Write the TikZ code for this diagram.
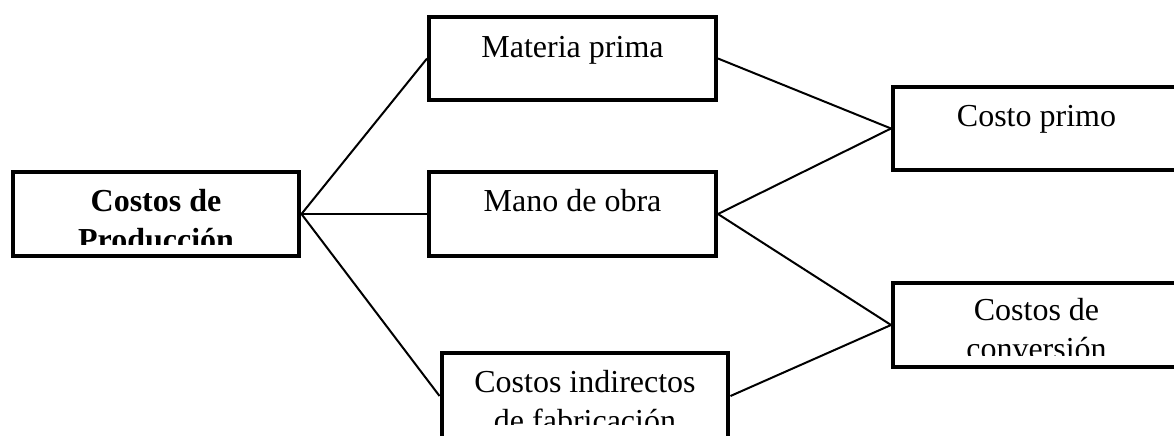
\documentclass[tikz,border=0pt]{standalone}
\usepackage{fontspec}
\setmainfont{Liberation Serif}
\usepackage{tikz}
\usetikzlibrary{positioning, calc}

\tikzset{
  caja/.style={draw, line width=1.5pt, inner sep=0pt, minimum width=107.6pt, minimum height=31.2pt},
  texto/.style={inner sep=0pt, align=center, font=\fontsize{12}{14.6}\selectfont},
  linea/.style={line width=0.75pt}
}

\begin{document}
\begin{tikzpicture}[x=0.375pt, y=-0.375pt]
				\useasboundingbox (0,0) rectangle (1174,436);
				\clip (0,0) rectangle (1174,436);
				% cajas
				\node[caja] (prod) at (156,214) {};
				\node[caja] (mat) at (572.5,58.5) {};
				\node[caja] (mano) at (572.5,214) {};
				\node[caja, minimum height=32.25pt] (ind) at (585,396) {};
				\node[caja] (primo) at (1036.5,128.5) {};
				\node[caja] (conv) at (1036.5,325) {};
				% textos (recortados abajo)
				\begin{scope}
					\clip (prod.north west) rectangle ($(prod.north east)+(0,74)$);
					\node[texto, anchor=base, font=\fontsize{12}{14.6}\selectfont\bfseries] (tprod) at ($(prod.north)+(0,80)$) {Costos de\\Producción};
				\end{scope}
				\begin{scope}
					\clip (mat.north west) rectangle ($(mat.north east)+(0,74)$);
					\node[texto, anchor=base] (tmat) at ($(mat.north)+(0,43)$) {Materia prima};
				\end{scope}
				\begin{scope}
					\clip (mano.north west) rectangle ($(mano.north east)+(0,74)$);
					\node[texto, anchor=base] (tmano) at ($(mano.north)+(0,41)$) {Mano de obra};
				\end{scope}
				\begin{scope}
					\clip (ind.north west) rectangle ($(ind.north east)+(0,73)$);
					\node[texto, anchor=base] (tind) at ($(ind.north)+(0,80)$) {Costos indirectos\\de fabricación};
				\end{scope}
				\begin{scope}
					\clip (primo.north west) rectangle ($(primo.north east)+(0,74)$);
					\node[texto, anchor=base] (tprimo) at ($(primo.north)+(0,42)$) {Costo primo};
				\end{scope}
				\begin{scope}
					\clip (conv.north west) rectangle ($(conv.north east)+(0,74)$);
					\node[texto, anchor=base] (tconv) at ($(conv.north)+(0,78)$) {Costos de\\conversión};
				\end{scope}
				% conexiones
				\draw[linea] (prod.east) -- (mat.west);
				\draw[linea] (prod.east) -- (mano.west);
				\draw[linea] (prod.east) -- (ind.west);
				\draw[linea] (mat.east) -- (primo.west);
				\draw[linea] (mano.east) -- (primo.west);
				\draw[linea] (mano.east) -- (conv.west);
				\draw[linea] (ind.east) -- (conv.west);
			\end{tikzpicture}
\end{document}
